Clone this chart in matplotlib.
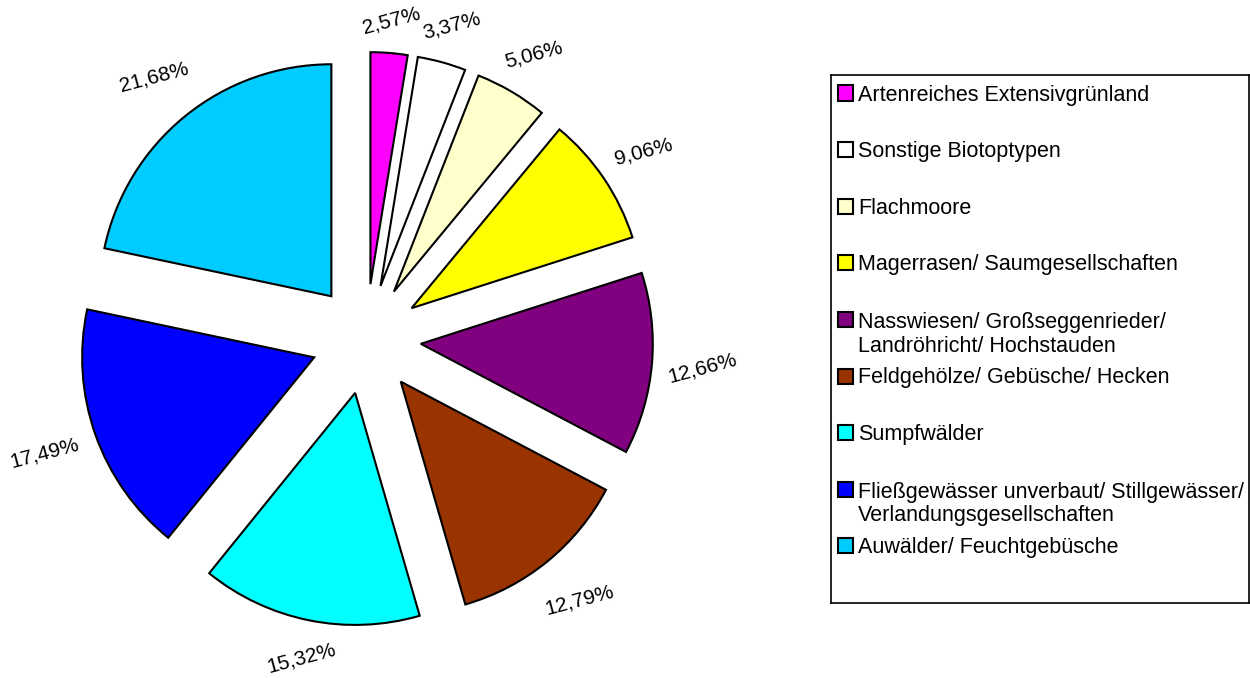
import math
import matplotlib
matplotlib.use("Agg")
import matplotlib.pyplot as plt
from matplotlib.patches import Rectangle

plt.rcParams['font.family'] = ['Liberation Sans', 'DejaVu Sans']

categories = [
    "Artenreiches Extensivgrünland",
    "Sonstige Biotoptypen",
    "Flachmoore",
    "Magerrasen/ Saumgesellschaften",
    "Nasswiesen/ Großseggenrieder/\nLandröhricht/ Hochstauden",
    "Feldgehölze/ Gebüsche/ Hecken",
    "Sumpfwälder",
    "Fließgewässer unverbaut/ Stillgewässer/\nVerlandungsgesellschaften",
    "Auwälder/ Feuchtgebüsche",
]
values = [2.57, 3.37, 5.06, 9.06, 12.66, 12.79, 15.32, 17.49, 21.68]
value_labels = ["2,57%", "3,37%", "5,06%", "9,06%", "12,66%", "12,79%",
                "15,32%", "17,49%", "21,68%"]
colors = ["#FF00FF", "#FFFFFF", "#FFFFCC", "#FFFF00", "#800080",
          "#993300", "#00FFFF", "#0000FF", "#00CCFF"]

W, H = 1250, 678
fig = plt.figure(figsize=(W / 100, H / 100), dpi=100)
ax = fig.add_axes([0, 0, 1, 1])

radius = 232
wedges, texts = ax.pie(
    values, labels=value_labels, colors=colors,
    explode=[55] * len(values), radius=radius, center=(366, 339),
    startangle=90, counterclock=False, labeldistance=1.0,
    wedgeprops=dict(edgecolor='black', linewidth=1.5),
    textprops=dict(fontsize=15, color='black'),
    frame=True,
)
ax.set_xlim(0, W)
ax.set_ylim(0, H)
ax.set_aspect('equal')
ax.axis('off')
for t in texts:
    t.set_ha('center')
    t.set_va('center')
    t.set_rotation(15)

# place each label just outside its slice, with a constant gap from the text box
fig.canvas.draw()
renderer = fig.canvas.get_renderer()
gap = 13
for w, t in zip(wedges, texts):
    thm = math.radians(0.5 * (w.theta1 + w.theta2))
    ux, uy = math.cos(thm), math.sin(thm)
    bb = t.get_window_extent(renderer)
    a, b = bb.width / 2, bb.height / 2
    d = w.r + gap + a * abs(ux) + b * abs(uy)
    cx, cy = w.center
    t.set_position((cx + d * ux, cy + d * uy))

# Legend box
lx0, ly_top, lx1, ly_bot = 831, 75, 1249, 603
lax = fig.add_axes([lx0 / W, 1 - ly_bot / H, (lx1 - lx0) / W, (ly_bot - ly_top) / H])
lax.set_xticks([])
lax.set_yticks([])
for s in lax.spines.values():
    s.set_linewidth(1.2)
    s.set_color('black')

first_center = 93
slot = 56.6
msize = 15
line_px = 24.8
for i, (lab, col) in enumerate(zip(categories, colors)):
    yc = first_center + slot * i
    fig.patches.append(Rectangle((838 / W, 1 - (yc + msize / 2) / H),
                                 msize / W, msize / H,
                                 transform=fig.transFigure,
                                 facecolor=col, edgecolor='black', linewidth=1.5))
    extra = lab.count('\n') * line_px
    fig.text(858 / W, 1 - (yc + 7.5 + extra) / H, lab, fontsize=15.5,
             ha='left', va='baseline', linespacing=1.15)

fig.savefig("out.png", dpi=100)
